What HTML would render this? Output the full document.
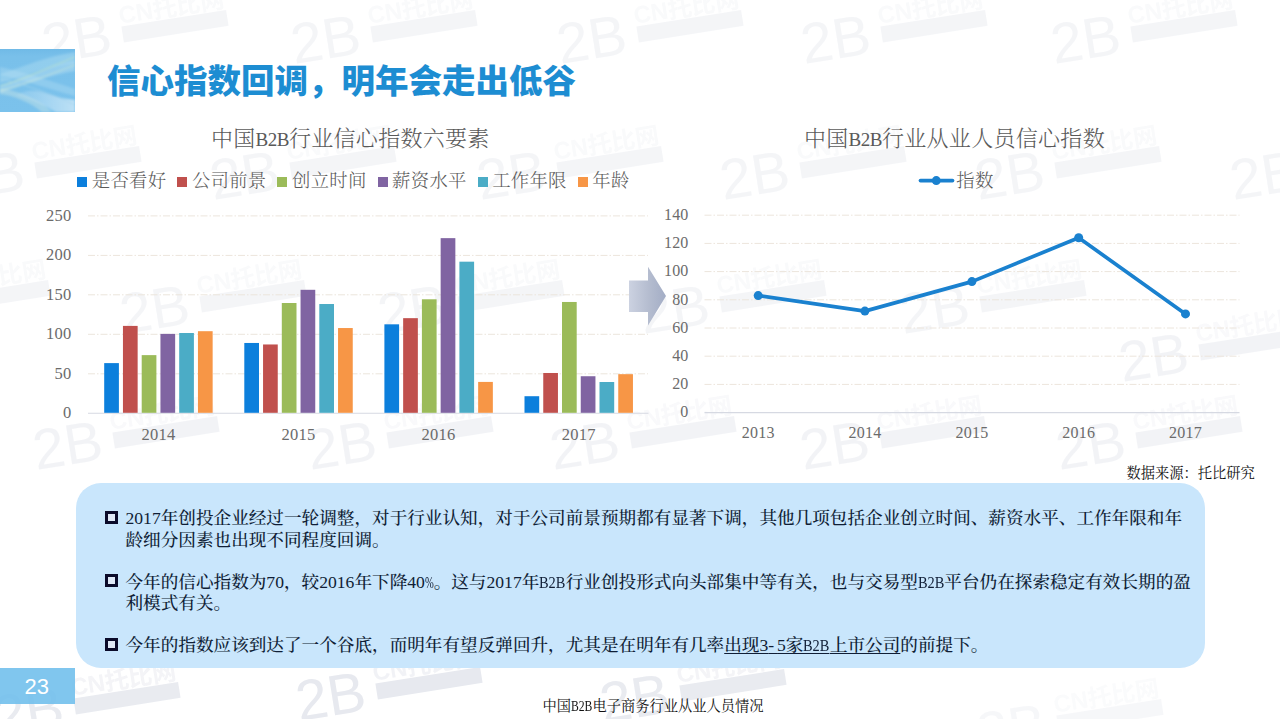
<!DOCTYPE html>
<html lang="zh-CN">
<head>
<meta charset="utf-8">
<title>信心指数回调，明年会走出低谷</title>
<style>
html,body{margin:0;padding:0;background:#fff;}
body{width:1280px;height:719px;position:relative;overflow:hidden;
  font-family:"Liberation Serif","Noto Serif CJK SC",serif;color:#000;}
.abs{position:absolute;white-space:nowrap;}
#title{left:107px;top:56.8px;font-family:"Liberation Sans","Noto Sans CJK SC",sans-serif;
  font-weight:900;font-size:33.5px;line-height:50px;color:#1d8dd2;letter-spacing:0px;}
.ctitle{font-size:22px;line-height:30px;color:#595959;font-weight:300;letter-spacing:.3px;}
.ctitle b{font-family:"Liberation Serif",serif;font-size:19px;font-weight:400;letter-spacing:-.5px;}
.b2b{display:inline-block;width:1.5em;transform:scaleX(.818);transform-origin:0 50%;}
.pc{display:inline-block;width:.5em;transform:scaleX(.6);transform-origin:0 50%;}
.hy{letter-spacing:.167em;}
u{text-decoration-thickness:1px;text-underline-offset:2px;}
u .b2b{text-decoration:underline;text-decoration-thickness:1px;text-underline-offset:2px;}
.leg{font-size:18.4px;line-height:24px;color:#595959;font-weight:300;letter-spacing:.25px;}
.sq{position:absolute;width:10px;height:10px;top:177px;}
#panel{left:75.5px;top:482.5px;width:1129.6px;height:185.5px;border-radius:25px;background:#c9e6fc;}
.bl{font-size:17.62px;line-height:22px;color:#101e36;font-weight:500;}
.bsq{position:absolute;left:105px;width:13px;height:12.6px;background:linear-gradient(#dfe8f6,#dfe8f6) no-repeat 3px 2.8px / 7px 7px,#0b0b2a;}
.wm{position:absolute;width:0;height:0;transform:rotate(-9deg);transform-origin:0 0;color:#e7e9ef;font-family:"Liberation Sans","Noto Sans CJK SC",sans-serif;white-space:nowrap;}
.wm span{position:absolute;display:block;}
.w2b{left:-3px;top:-8.4px;font-size:57px;line-height:57px;}
.wcn{opacity:.55;left:77px;top:-9px;font-size:24px;line-height:26px;font-weight:700;letter-spacing:0;}
.wbar{left:78px;top:15px;width:106px;height:15.5px;background:#e7e9ef;color:#fff;font-size:10px;line-height:15.5px;text-align:center;letter-spacing:1px;}
#pg{left:0;top:668px;width:75px;height:36px;background:rgba(110,190,236,.88);}
#pgn{left:24.6px;top:673.5px;font-family:"Liberation Sans",sans-serif;font-size:22px;line-height:26px;color:#fff;}
#foot{left:542.5px;top:696.5px;font-size:14.27px;line-height:18px;color:#111;}
#src{left:1126.5px;top:463px;font-size:14.27px;line-height:20px;color:#111;}
</style>
</head>
<body>
<div class="wm" style="left:42px;top:23.9px;opacity:0.45"><span class="w2b">2B</span><span class="wcn">CN托比网</span><span class="wbar"></span></div>
<div class="wm" style="left:291px;top:23.9px;opacity:0.45"><span class="w2b">2B</span><span class="wcn">CN托比网</span><span class="wbar"></span></div>
<div class="wm" style="left:557px;top:23.9px;opacity:0.45"><span class="w2b">2B</span><span class="wcn">CN托比网</span><span class="wbar"></span></div>
<div class="wm" style="left:801px;top:23.9px;opacity:0.45"><span class="w2b">2B</span><span class="wcn">CN托比网</span><span class="wbar"></span></div>
<div class="wm" style="left:1051px;top:23.9px;opacity:0.45"><span class="w2b">2B</span><span class="wcn">CN托比网</span><span class="wbar"></span></div>
<div class="wm" style="left:-45px;top:159.9px;opacity:0.45"><span class="w2b">2B</span><span class="wcn">CN托比网</span><span class="wbar"></span></div>
<div class="wm" style="left:210px;top:159.9px;opacity:0.45"><span class="w2b">2B</span><span class="wcn">CN托比网</span><span class="wbar"></span></div>
<div class="wm" style="left:477px;top:159.9px;opacity:0.45"><span class="w2b">2B</span><span class="wcn">CN托比网</span><span class="wbar"></span></div>
<div class="wm" style="left:720px;top:159.9px;opacity:0.45"><span class="w2b">2B</span><span class="wcn">CN托比网</span><span class="wbar"></span></div>
<div class="wm" style="left:975px;top:159.9px;opacity:0.45"><span class="w2b">2B</span><span class="wcn">CN托比网</span><span class="wbar"></span></div>
<div class="wm" style="left:1230px;top:159.9px;opacity:0.45"><span class="w2b">2B</span><span class="wcn">CN托比网</span><span class="wbar"></span></div>
<div class="wm" style="left:-136px;top:293.9px;opacity:0.45"><span class="w2b">2B</span><span class="wcn">CN托比网</span><span class="wbar"></span></div>
<div class="wm" style="left:120px;top:293.9px;opacity:0.45"><span class="w2b">2B</span><span class="wcn">CN托比网</span><span class="wbar"></span></div>
<div class="wm" style="left:378px;top:293.9px;opacity:0.45"><span class="w2b">2B</span><span class="wcn">CN托比网</span><span class="wbar"></span></div>
<div class="wm" style="left:640px;top:293.9px;opacity:0.45"><span class="w2b">2B</span><span class="wcn">CN托比网</span><span class="wbar"></span></div>
<div class="wm" style="left:900px;top:293.9px;opacity:0.45"><span class="w2b">2B</span><span class="wcn">CN托比网</span><span class="wbar"></span></div>
<div class="wm" style="left:33px;top:429.9px;opacity:0.5"><span class="w2b">2B</span><span class="wcn">CN托比网</span><span class="wbar"></span></div>
<div class="wm" style="left:307px;top:429.9px;opacity:0.5"><span class="w2b">2B</span><span class="wcn">CN托比网</span><span class="wbar"></span></div>
<div class="wm" style="left:550px;top:429.9px;opacity:0.5"><span class="w2b">2B</span><span class="wcn">CN托比网</span><span class="wbar"></span></div>
<div class="wm" style="left:800px;top:429.9px;opacity:0.5"><span class="w2b">2B</span><span class="wcn">CN托比网</span><span class="wbar"></span></div>
<div class="wm" style="left:1056px;top:429.9px;opacity:0.5"><span class="w2b">2B</span><span class="wcn">CN托比网</span><span class="wbar"></span></div>
<div class="wm" style="left:1119px;top:341.9px;opacity:0.5"><span class="w2b">2B</span><span class="wcn">CN托比网</span><span class="wbar"></span></div>
<div class="wm" style="left:-6px;top:695.9px;opacity:0.9"><span class="w2b">2B</span><span class="wcn">CN托比网</span><span class="wbar"></span></div>
<div class="wm" style="left:296px;top:680.9px;opacity:1"><span class="w2b">2B</span><span class="wcn">CN托比网</span><span class="wbar"></span></div>
<div class="wm" style="left:600px;top:682.9px;opacity:0.9"><span class="w2b">2B</span><span class="wcn">CN托比网</span><span class="wbar"></span></div>
<div class="wm" style="left:977px;top:712.9px;opacity:0.35"><span class="w2b">2B</span><span class="wcn">CN托比网</span><span class="wbar"></span></div>
<svg class="abs" style="left:0;top:49px" width="75" height="63" viewBox="0 0 75 63">
<defs>
<linearGradient id="tg" x1="0" y1="0" x2="0" y2="1"><stop offset="0" stop-color="#70bae7"/><stop offset="0.12" stop-color="#79c0ea"/><stop offset="1" stop-color="#7bc2ec"/></linearGradient>
<linearGradient id="tr" x1="0" y1="0" x2="1" y2="0"><stop offset="0" stop-color="#ffffff" stop-opacity=".1"/><stop offset="1" stop-color="#ffffff" stop-opacity=".5"/></linearGradient>
<filter id="tb" x="-10%" y="-10%" width="120%" height="120%"><feGaussianBlur stdDeviation="1.1"/></filter>
<clipPath id="tc"><rect width="75" height="63"/></clipPath>
</defs>
<rect width="75" height="63" fill="url(#tg)"/>
<g clip-path="url(#tc)"><g filter="url(#tb)">
<path d="M0,25 C18,20 40,9 75,3 L75,14 C48,17 24,27 0,34 Z" fill="#c9ecf6" opacity=".3"/>
<path d="M0,36 C20,30 45,18 75,12 L75,22 C50,26 25,36 0,44 Z" fill="#d6f0f4" opacity=".3"/>
<path d="M0,18 C20,22 45,30 75,40 L75,47 C48,40 22,30 0,26 Z" fill="#bfe3f5" opacity=".3"/>
<path d="M16,46 C24,42 32,40 44,44 C56,48 66,50 75,51 L75,63 L56,63 C42,55 30,50 16,46 Z" fill="url(#tr)"/>
<path d="M0,40 C10,40 25,44 44,56 L52,63 L42,63 C30,53 12,46 0,45 Z" fill="#eaf6e6" opacity=".3"/>
<path d="M0,37 C15,34 35,24 75,8" fill="none" stroke="#c8eac0" stroke-width="1.2" opacity=".55"/>
<path d="M0,41 C18,38 38,30 75,16" fill="none" stroke="#e6f3c8" stroke-width="1" opacity=".45"/>
<path d="M0,30 C20,34 50,44 75,56" fill="none" stroke="#9fd3ee" stroke-width="1.2" opacity=".7"/>
</g></g>
</svg>

<div id="title" class="abs">信心指数回调，明年会走出低谷</div>

<svg class="abs" style="left:0;top:0" width="1280" height="719" viewBox="0 0 1280 719">
<line x1="88" y1="373.8" x2="648" y2="373.8" stroke="#ece5dc" stroke-width="1" stroke-dasharray="7 2 1.5 2"/>
<line x1="88" y1="334.3" x2="648" y2="334.3" stroke="#ece5dc" stroke-width="1" stroke-dasharray="7 2 1.5 2"/>
<line x1="88" y1="294.8" x2="648" y2="294.8" stroke="#ece5dc" stroke-width="1" stroke-dasharray="7 2 1.5 2"/>
<line x1="88" y1="255.4" x2="648" y2="255.4" stroke="#ece5dc" stroke-width="1" stroke-dasharray="7 2 1.5 2"/>
<line x1="88" y1="215.9" x2="648" y2="215.9" stroke="#ece5dc" stroke-width="1" stroke-dasharray="7 2 1.5 2"/>
<line x1="88" y1="413.2" x2="648.5" y2="413.2" stroke="#d6d9e2" stroke-width="1.1"/>
<rect x="104.20" y="363.11" width="14.7" height="49.69" fill="#0c7fdc"/>
<rect x="122.95" y="325.90" width="14.7" height="86.89" fill="#c0504d"/>
<rect x="141.70" y="355.13" width="14.7" height="57.67" fill="#9bbb59"/>
<rect x="160.45" y="333.88" width="14.7" height="78.92" fill="#8064a2"/>
<rect x="179.20" y="333.01" width="14.7" height="79.78" fill="#4bacc6"/>
<rect x="197.95" y="331.20" width="14.7" height="81.60" fill="#f79646"/>
<rect x="244.30" y="342.97" width="14.7" height="69.83" fill="#0c7fdc"/>
<rect x="263.05" y="344.47" width="14.7" height="68.33" fill="#c0504d"/>
<rect x="281.80" y="303.00" width="14.7" height="109.80" fill="#9bbb59"/>
<rect x="300.55" y="289.80" width="14.7" height="123.00" fill="#8064a2"/>
<rect x="319.30" y="304.02" width="14.7" height="108.78" fill="#4bacc6"/>
<rect x="338.05" y="328.04" width="14.7" height="84.76" fill="#f79646"/>
<rect x="384.40" y="324.32" width="14.7" height="88.47" fill="#0c7fdc"/>
<rect x="403.15" y="318.16" width="14.7" height="94.64" fill="#c0504d"/>
<rect x="421.90" y="299.28" width="14.7" height="113.52" fill="#9bbb59"/>
<rect x="440.65" y="238.14" width="14.7" height="174.66" fill="#8064a2"/>
<rect x="459.40" y="261.68" width="14.7" height="151.12" fill="#4bacc6"/>
<rect x="478.15" y="381.92" width="14.7" height="30.88" fill="#f79646"/>
<rect x="524.50" y="396.21" width="14.7" height="16.59" fill="#0c7fdc"/>
<rect x="543.25" y="372.99" width="14.7" height="39.81" fill="#c0504d"/>
<rect x="562.00" y="301.97" width="14.7" height="110.83" fill="#9bbb59"/>
<rect x="580.75" y="376.23" width="14.7" height="36.57" fill="#8064a2"/>
<rect x="599.50" y="382.00" width="14.7" height="30.81" fill="#4bacc6"/>
<rect x="618.25" y="374.17" width="14.7" height="38.63" fill="#f79646"/>
<g font-family="'Liberation Serif','Noto Serif CJK SC',serif" font-size="16.5" fill="#6b6b6b">
<text x="71.6" y="418.2" text-anchor="end" letter-spacing="0.25">0</text>
<text x="71.6" y="378.8" text-anchor="end" letter-spacing="0.25">50</text>
<text x="71.6" y="339.3" text-anchor="end" letter-spacing="0.25">100</text>
<text x="71.6" y="299.8" text-anchor="end" letter-spacing="0.25">150</text>
<text x="71.6" y="260.4" text-anchor="end" letter-spacing="0.25">200</text>
<text x="71.6" y="220.9" text-anchor="end" letter-spacing="0.25">250</text>
<text x="158.4" y="439.9" text-anchor="middle" letter-spacing="0.25">2014</text>
<text x="298.5" y="439.9" text-anchor="middle" letter-spacing="0.25">2015</text>
<text x="438.6" y="439.9" text-anchor="middle" letter-spacing="0.25">2016</text>
<text x="578.7" y="439.9" text-anchor="middle" letter-spacing="0.25">2017</text>
</g>
</svg>
<div class="sq" style="left:77.2px;background:#0c7fdc"></div><div class="abs leg" style="left:91.8px;top:169px">是否看好</div>
<div class="sq" style="left:177.3px;background:#c0504d"></div><div class="abs leg" style="left:191.9px;top:169px">公司前景</div>
<div class="sq" style="left:277.4px;background:#9bbb59"></div><div class="abs leg" style="left:292.0px;top:169px">创立时间</div>
<div class="sq" style="left:377.5px;background:#8064a2"></div><div class="abs leg" style="left:392.1px;top:169px">薪资水平</div>
<div class="sq" style="left:477.6px;background:#4bacc6"></div><div class="abs leg" style="left:492.2px;top:169px">工作年限</div>
<div class="sq" style="left:577.7px;background:#f79646"></div><div class="abs leg" style="left:592.3px;top:169px">年龄</div>
<div class="abs ctitle" style="left:211px;top:124px">中国<b>B2B</b>行业信心指数六要素</div>
<svg class="abs" style="left:0;top:0" width="1280" height="719" viewBox="0 0 1280 719">
<line x1="704.5" y1="384.4" x2="1239.5" y2="384.4" stroke="#ece5dc" stroke-width="1" stroke-dasharray="7 2 1.5 2"/>
<line x1="704.5" y1="356.2" x2="1239.5" y2="356.2" stroke="#ece5dc" stroke-width="1" stroke-dasharray="7 2 1.5 2"/>
<line x1="704.5" y1="328.0" x2="1239.5" y2="328.0" stroke="#ece5dc" stroke-width="1" stroke-dasharray="7 2 1.5 2"/>
<line x1="704.5" y1="299.8" x2="1239.5" y2="299.8" stroke="#ece5dc" stroke-width="1" stroke-dasharray="7 2 1.5 2"/>
<line x1="704.5" y1="271.6" x2="1239.5" y2="271.6" stroke="#ece5dc" stroke-width="1" stroke-dasharray="7 2 1.5 2"/>
<line x1="704.5" y1="243.4" x2="1239.5" y2="243.4" stroke="#ece5dc" stroke-width="1" stroke-dasharray="7 2 1.5 2"/>
<line x1="704.5" y1="215.2" x2="1239.5" y2="215.2" stroke="#ece5dc" stroke-width="1" stroke-dasharray="7 2 1.5 2"/>
<line x1="704.5" y1="412.6" x2="1239.5" y2="412.6" stroke="#d6d9e2" stroke-width="1.1"/>
<polyline points="758.2,295.6 864.9,311.1 971.9,281.6 1078.7,237.8 1185.5,313.9" fill="none" stroke="#1a81cf" stroke-width="3.7" stroke-linejoin="round" stroke-linecap="round"/>
<circle cx="758.2" cy="295.6" r="4.5" fill="#1a81cf"/>
<circle cx="864.9" cy="311.1" r="4.5" fill="#1a81cf"/>
<circle cx="971.9" cy="281.6" r="4.5" fill="#1a81cf"/>
<circle cx="1078.7" cy="237.8" r="4.5" fill="#1a81cf"/>
<circle cx="1185.5" cy="313.9" r="4.5" fill="#1a81cf"/>
<line x1="920.5" y1="180.6" x2="952.5" y2="180.6" stroke="#1a81cf" stroke-width="3.7" stroke-linecap="round"/><circle cx="936.3" cy="180.6" r="4.5" fill="#1a81cf"/>
<g font-family="'Liberation Serif','Noto Serif CJK SC',serif" font-size="16" fill="#6b6b6b">
<text x="688.4" y="417.4" text-anchor="end" letter-spacing="0.1">0</text>
<text x="688.4" y="389.2" text-anchor="end" letter-spacing="0.1">20</text>
<text x="688.4" y="361.0" text-anchor="end" letter-spacing="0.1">40</text>
<text x="688.4" y="332.8" text-anchor="end" letter-spacing="0.1">60</text>
<text x="688.4" y="304.6" text-anchor="end" letter-spacing="0.1">80</text>
<text x="688.4" y="276.4" text-anchor="end" letter-spacing="0.1">100</text>
<text x="688.4" y="248.2" text-anchor="end" letter-spacing="0.1">120</text>
<text x="688.4" y="220.0" text-anchor="end" letter-spacing="0.1">140</text>
<text x="758.2" y="438.4" text-anchor="middle" letter-spacing="0.25">2013</text>
<text x="864.9" y="438.4" text-anchor="middle" letter-spacing="0.25">2014</text>
<text x="971.9" y="438.4" text-anchor="middle" letter-spacing="0.25">2015</text>
<text x="1078.7" y="438.4" text-anchor="middle" letter-spacing="0.25">2016</text>
<text x="1185.5" y="438.4" text-anchor="middle" letter-spacing="0.25">2017</text>
</g>
</svg>
<div class="abs leg" style="left:956.3px;top:169px">指数</div>
<div class="abs ctitle" style="left:804px;top:124px">中国<b>B2B</b>行业从业人员信心指数</div>
<svg class="abs" style="left:620px;top:260px" width="60" height="72" viewBox="620 260 60 72">
<defs><linearGradient id="ag" x1="0" y1="0" x2="1" y2="0"><stop offset="0" stop-color="#ccd2e1"/><stop offset="0.55" stop-color="#b4bccf"/><stop offset="1" stop-color="#a3adc5"/></linearGradient></defs>
<polygon points="629,280.5 648,280.5 648,266.8 666,296 648,325.6 648,312 629,312" fill="url(#ag)"/>
</svg>


<div id="src" class="abs">数据来源：托比研究</div>

<div id="panel" class="abs"></div>
<div class="bsq" style="top:511.2px"></div>
<div class="abs bl" style="left:125.5px;top:507.4px">2017年创投企业经过一轮调整，对于行业认知，对于公司前景预期都有显著下调，其他几项包括企业创立时间、薪资水平、工作年限和年</div>
<div class="abs bl" style="left:125.5px;top:529px">龄细分因素也出现不同程度回调。</div>
<div class="bsq" style="top:574.4px"></div>
<div class="abs bl" style="left:125.5px;top:570.7px">今年的信心指数为70，较2016年下降40<span class="pc">%</span>。这与2017年<span class="b2b">B2B</span>行业创投形式向头部集中等有关，也与交易型<span class="b2b">B2B</span>平台仍在探索稳定有效长期的盈</div>
<div class="abs bl" style="left:125.5px;top:592px">利模式有关。</div>
<div class="bsq" style="top:638.2px"></div>
<div class="abs bl" style="left:125.5px;top:634px">今年的指数应该到达了一个谷底，而明年有望反弹回升，尤其是在明年有几率<u>出现3<span class="hy">-</span>5家<span class="b2b">B2B</span>上市公司</u>的前提下。</div>


<div id="pg" class="abs"></div>
<div id="pgn" class="abs">23</div>
<div id="foot" class="abs">中国<span class="b2b">B2B</span>电子商务行业从业人员情况</div>
</body>
</html>
